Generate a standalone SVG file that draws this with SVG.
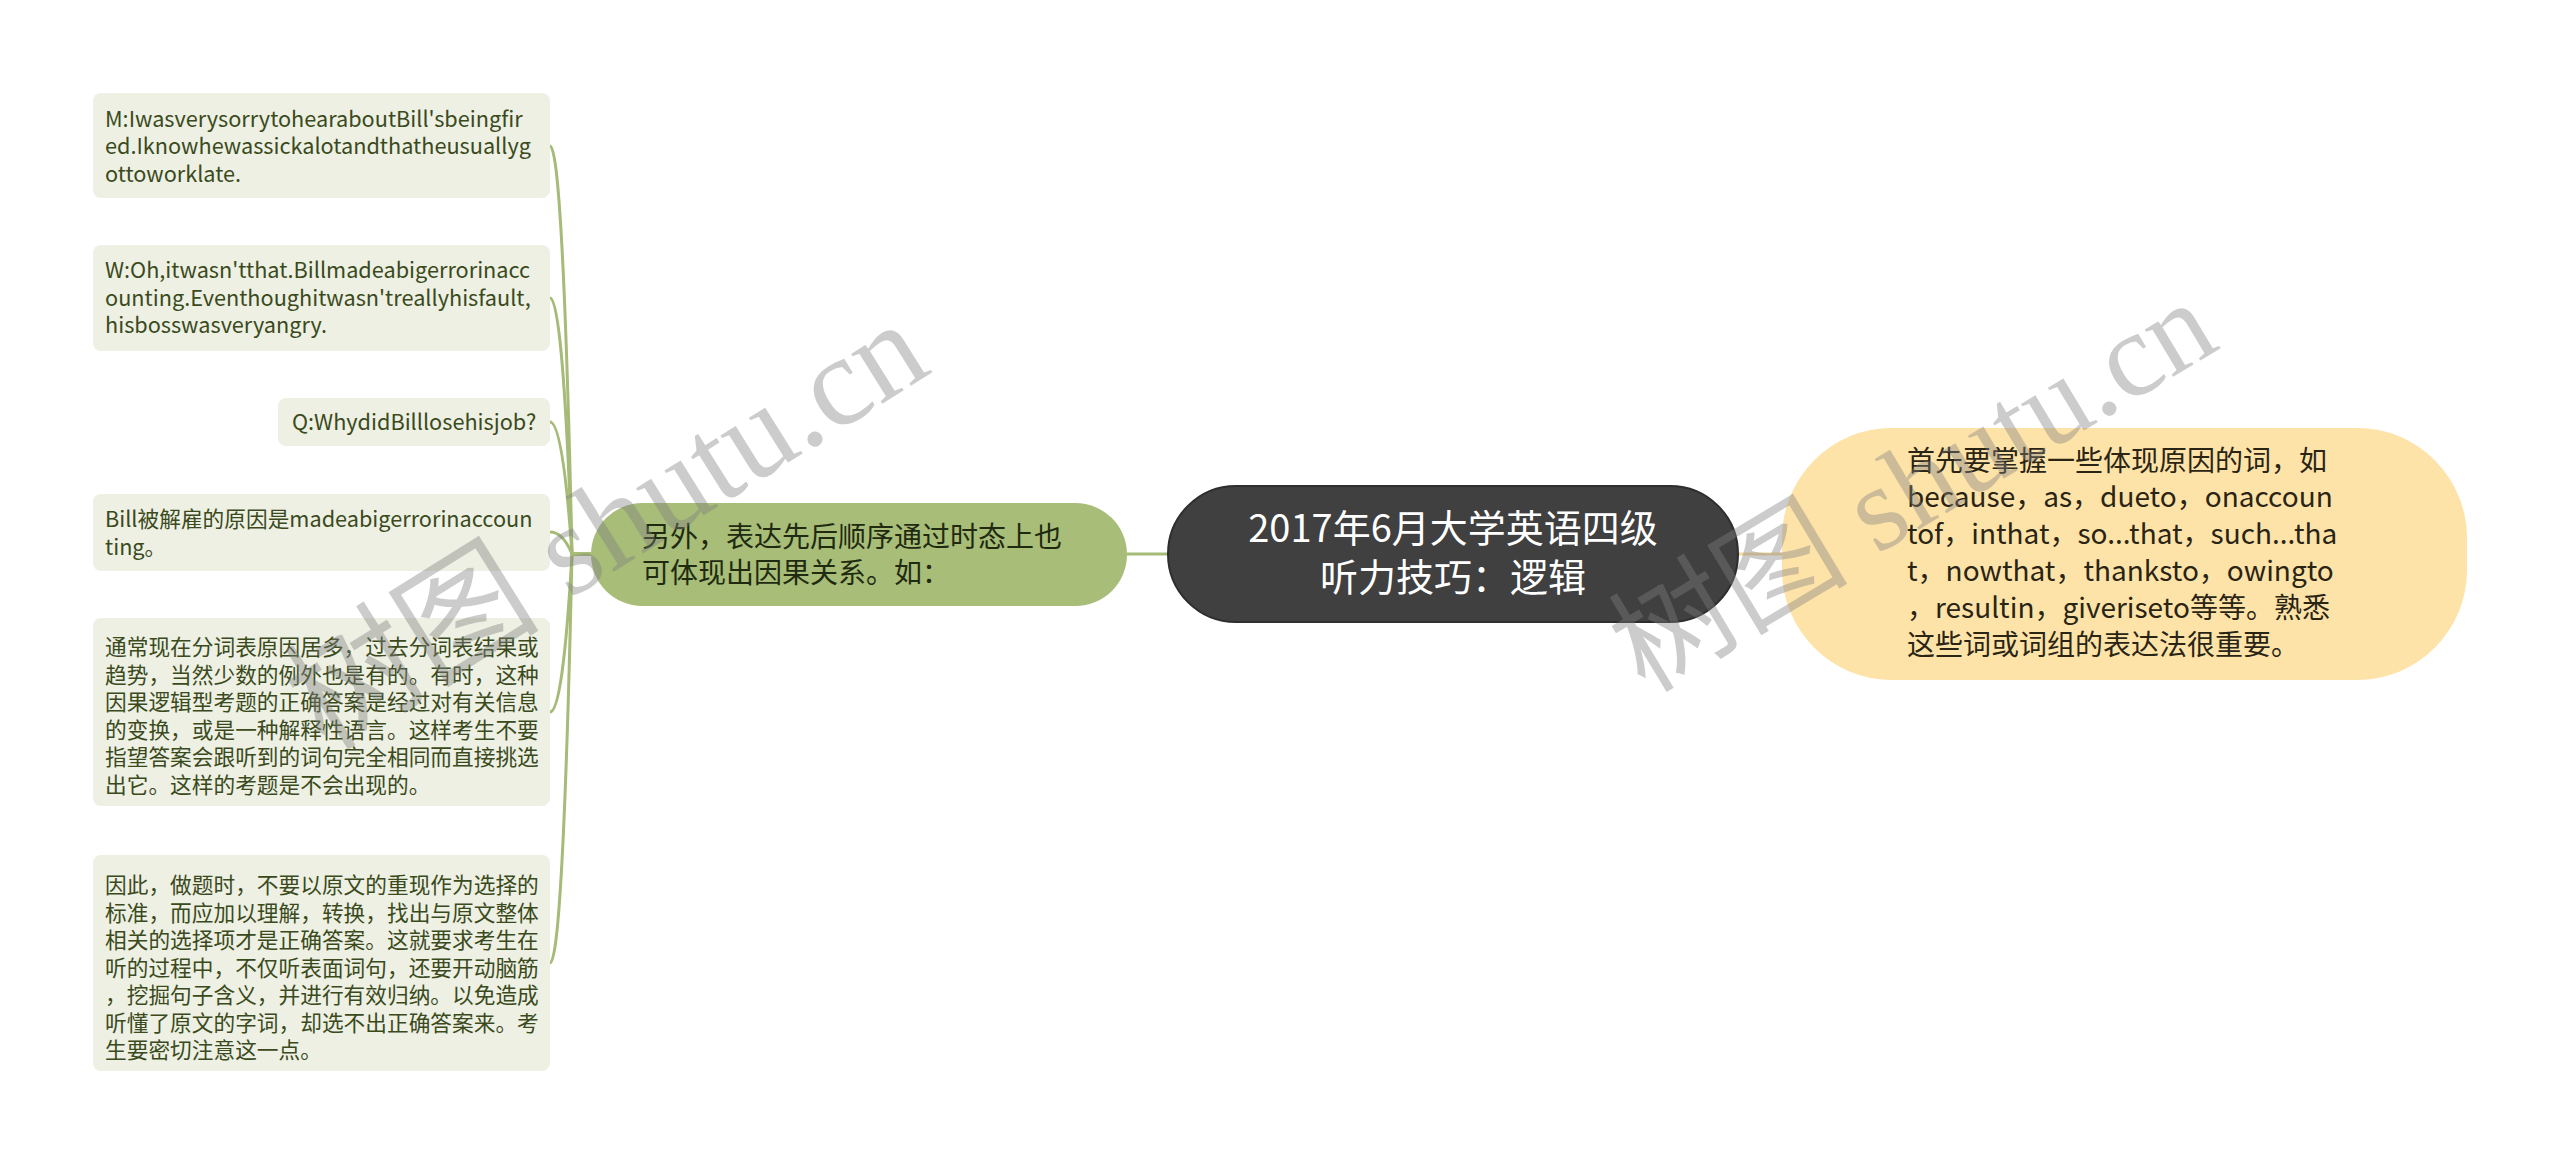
<svg xmlns="http://www.w3.org/2000/svg" width="2560" height="1165" viewBox="0 0 2560 1165">
<style>
.leaf rect{fill:#edf0e3}
.leaf text{font-family:"Noto Sans CJK SC","Noto Sans",sans-serif;font-size:21.7px;fill:#3a4a1c}
.mid text{font-family:"Noto Sans CJK SC","Noto Sans",sans-serif;font-size:28px;fill:#1f2a10}
.root text{font-family:"Noto Sans CJK SC","Noto Sans",sans-serif;font-size:38px;fill:#ffffff;text-anchor:middle}
.right text{font-family:"Noto Sans CJK SC","Noto Sans",sans-serif;font-size:28px;fill:#2a2414}
.conn{fill:none;stroke:#a5bb77;stroke-width:3}
.wm{font-family:"Liberation Serif","Noto Sans CJK SC",serif;fill:#808080;fill-opacity:0.4}
</style>
<rect width="2560" height="1165" fill="#ffffff"/>
<g id="connectors">
<path class="conn" d="M591 554 L572 554 Q563 146 550 146"/>
<path class="conn" d="M591 554 L572 554 Q563 298 550 298"/>
<path class="conn" d="M591 554 L572 554 Q563 422 550 422"/>
<path class="conn" d="M591 554 L572 554 Q563 532 550 532"/>
<path class="conn" d="M591 554 L572 554 Q563 712 550 712"/>
<path class="conn" d="M591 554 L572 554 Q563 963 550 963"/>
<path class="conn" d="M1127 554 L1168 554"/>
<path fill="none" stroke="#f6d9a0" stroke-width="3" d="M1738 554 L1782 554"/>
</g>
<g id="leaf1" class="leaf">
<rect x="93" y="93" width="457" height="105" rx="8"/>
<text x="105" y="126.5">M:IwasverysorrytohearaboutBill'sbeingfir</text>
<text x="105" y="154">ed.Iknowhewassickalotandthatheusuallyg</text>
<text x="105" y="181.5">ottoworklate.</text>
</g>
<g id="leaf2" class="leaf">
<rect x="93" y="245" width="457" height="106" rx="8"/>
<text x="105" y="278">W:Oh,itwasn'tthat.Billmadeabigerrorinacc</text>
<text x="105" y="305.5">ounting.Eventhoughitwasn'treallyhisfault,</text>
<text x="105" y="333">hisbosswasveryangry.</text>
</g>
<g id="leaf3" class="leaf">
<rect x="278" y="398" width="272" height="48" rx="8"/>
<text x="292" y="430">Q:WhydidBilllosehisjob?</text>
</g>
<g id="leaf4" class="leaf">
<rect x="93" y="494" width="457" height="77" rx="8"/>
<text x="105" y="527">Bill被解雇的原因是madeabigerrorinaccoun</text>
<text x="105" y="554.5">ting。</text>
</g>
<g id="leaf5" class="leaf">
<rect x="93" y="618" width="457" height="188" rx="8"/>
<text x="105" y="655">通常现在分词表原因居多，过去分词表结果或</text>
<text x="105" y="682.5">趋势，当然少数的例外也是有的。有时，这种</text>
<text x="105" y="710">因果逻辑型考题的正确答案是经过对有关信息</text>
<text x="105" y="737.5">的变换，或是一种解释性语言。这样考生不要</text>
<text x="105" y="765">指望答案会跟听到的词句完全相同而直接挑选</text>
<text x="105" y="792.5">出它。这样的考题是不会出现的。</text>
</g>
<g id="leaf6" class="leaf">
<rect x="93" y="855" width="457" height="216" rx="8"/>
<text x="105" y="893">因此，做题时，不要以原文的重现作为选择的</text>
<text x="105" y="920.5">标准，而应加以理解，转换，找出与原文整体</text>
<text x="105" y="948">相关的选择项才是正确答案。这就要求考生在</text>
<text x="105" y="975.5">听的过程中，不仅听表面词句，还要开动脑筋</text>
<text x="105" y="1003">，挖掘句子含义，并进行有效归纳。以免造成</text>
<text x="105" y="1030.5">听懂了原文的字词，却选不出正确答案来。考</text>
<text x="105" y="1058">生要密切注意这一点。</text>
</g>
<g id="mid" class="mid">
<rect x="591" y="503" width="536" height="103" rx="51.5" fill="#a7bd78"/>
<text x="642" y="547">另外，表达先后顺序通过时态上也</text>
<text x="642" y="583">可体现出因果关系。如：</text>
</g>
<g id="root" class="root">
<rect x="1168" y="486" width="570" height="136" rx="68" fill="#404040" stroke="#2e2e2e" stroke-width="2"/>
<text x="1453" y="542">2017年6月大学英语四级</text>
<text x="1453" y="591">听力技巧：逻辑</text>
</g>
<g id="right" class="right">
<rect x="1782" y="428" width="685" height="252" rx="110" fill="#fde3a8"/>
<text x="1907" y="470.5">首先要掌握一些体现原因的词，如</text>
<text x="1907" y="507">because，as，dueto，onaccoun</text>
<text x="1907" y="544">tof，inthat，so...that，such...tha</text>
<text x="1907" y="581">t，nowthat，thanksto，owingto</text>
<text x="1907" y="618">，resultin，giveriseto等等。熟悉</text>
<text x="1907" y="654.5">这些词或词组的表达法很重要。</text>
</g>
<g id="watermarks">
<text class="wm" font-size="128" transform="translate(325 752) rotate(-32)">树图 shutu.cn</text>
<text class="wm" font-size="120" transform="translate(1645 694) rotate(-31)">树图 shutu.cn</text>
</g>
</svg>
